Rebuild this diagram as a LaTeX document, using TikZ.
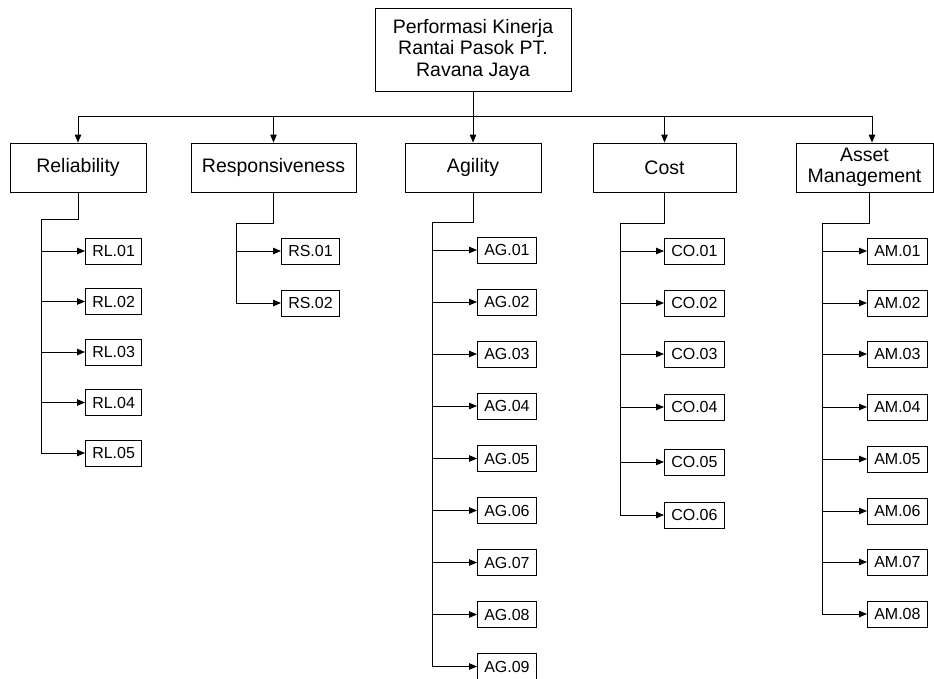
\documentclass[tikz,border=0pt]{standalone}
\usepackage{fontspec}
\setmainfont{Liberation Sans}
\usetikzlibrary{arrows.meta,positioning}
\tikzset{
    box/.style={rectangle, draw, line width=0.9pt, align=center, inner sep=0pt, font=\fontsize{19.5}{21.5}\selectfont},
    leaf/.style={rectangle, draw, line width=0.9pt, anchor=west, inner xsep=6.8pt, inner ysep=0pt, minimum height=26pt, font=\fontsize{16}{18}\selectfont},
    link/.style={line width=0.9pt},
    arr/.style={line width=0.9pt, -{Triangle[length=8pt,width=6.5pt]}}
}
\begin{document}
\begin{tikzpicture}[x=1pt,y=-1pt]
        \def\boxh{49pt}
        \useasboundingbox (0,0) rectangle (934,678);

        % root and first level
        \node(perf) [box, minimum width=196pt, minimum height=83pt] at (473,49.5) {Performasi Kinerja\\Rantai Pasok PT.\\Ravana Jaya};
        \node(rel) [box, minimum width=136pt, minimum height=\boxh] at (78,167.5) {Reliability};
        \node(resp) [box, minimum width=165pt, minimum height=\boxh] at (273.5,167.5) {Responsiveness};
        \node(agi) [box, minimum width=136pt, minimum height=\boxh] at (473,167.5) {Agility};
        \node(cost) [box, minimum width=143pt, minimum height=\boxh] at (664.5,167.5) {Cost};
        \node(am) [box, minimum width=137pt, minimum height=\boxh] at (864.5,167.5) {Asset\\Management};

        \coordinate(bus) at (473,116);
        \coordinate(amtop) at ([xshift=7.5pt]am.north);
        \draw[link] (perf.south) -- (bus);
        \draw[link] (rel.north |- bus) -- (amtop |- bus);
        \draw[arr] (rel.north |- bus) -- (rel.north);
        \draw[arr] (resp.north |- bus) -- (resp.north);
        \draw[arr] (bus) -- (agi.north);
        \draw[arr] (cost.north |- bus) -- (cost.north);
        \draw[arr] (amtop |- bus) -- (amtop);

        % Reliability
        \node(rl1) [leaf] at (85,251) {RL.01};
        \node(rl2) [leaf] at (85,301.5) {RL.02};
        \node(rl3) [leaf] at (85,352) {RL.03};
        \node(rl4) [leaf] at (85,402.5) {RL.04};
        \node(rl5) [leaf] at (85,453) {RL.05};
        \coordinate(relA) at (41,219);
        \draw[link] (rel.south) |- (relA) -- (relA |- rl5.west);
        \draw[arr] (rl1.west -| relA) -- (rl1.west);
        \draw[arr] (rl2.west -| relA) -- (rl2.west);
        \draw[arr] (rl3.west -| relA) -- (rl3.west);
        \draw[arr] (rl4.west -| relA) -- (rl4.west);
        \draw[arr] (rl5.west -| relA) -- (rl5.west);

        % Responsiveness
        \node(rs1) [leaf] at (281,251) {RS.01};
        \node(rs2) [leaf] at (281,303) {RS.02};
        \coordinate(respA) at (236,223);
        \draw[link] (resp.south) |- (respA) -- (respA |- rs2.west);
        \draw[arr] (rs1.west -| respA) -- (rs1.west);
        \draw[arr] (rs2.west -| respA) -- (rs2.west);

        % Agility
        \node(ag1) [leaf] at (477,250) {AG.01};
        \node(ag2) [leaf] at (477,302) {AG.02};
        \node(ag3) [leaf] at (477,354) {AG.03};
        \node(ag4) [leaf] at (477,406) {AG.04};
        \node(ag5) [leaf] at (477,458.5) {AG.05};
        \node(ag6) [leaf] at (477,510.5) {AG.06};
        \node(ag7) [leaf] at (477,562.5) {AG.07};
        \node(ag8) [leaf] at (477,614.5) {AG.08};
        \node(ag9) [leaf] at (477,666.5) {AG.09};
        \coordinate(agiA) at (432,222);
        \draw[link] (agi.south) |- (agiA) -- (agiA |- ag9.west);
        \draw[arr] (ag1.west -| agiA) -- (ag1.west);
        \draw[arr] (ag2.west -| agiA) -- (ag2.west);
        \draw[arr] (ag3.west -| agiA) -- (ag3.west);
        \draw[arr] (ag4.west -| agiA) -- (ag4.west);
        \draw[arr] (ag5.west -| agiA) -- (ag5.west);
        \draw[arr] (ag6.west -| agiA) -- (ag6.west);
        \draw[arr] (ag7.west -| agiA) -- (ag7.west);
        \draw[arr] (ag8.west -| agiA) -- (ag8.west);
        \draw[arr] (ag9.west -| agiA) -- (ag9.west);

        % Cost
        \node(co1) [leaf] at (664,251) {CO.01};
        \node(co2) [leaf] at (664,303) {CO.02};
        \node(co3) [leaf] at (664,354) {CO.03};
        \node(co4) [leaf] at (664,407) {CO.04};
        \node(co5) [leaf] at (664,462) {CO.05};
        \node(co6) [leaf] at (664,515) {CO.06};
        \coordinate(costA) at (620,223);
        \draw[link] (cost.south) |- (costA) -- (costA |- co6.west);
        \draw[arr] (co1.west -| costA) -- (co1.west);
        \draw[arr] (co2.west -| costA) -- (co2.west);
        \draw[arr] (co3.west -| costA) -- (co3.west);
        \draw[arr] (co4.west -| costA) -- (co4.west);
        \draw[arr] (co5.west -| costA) -- (co5.west);
        \draw[arr] (co6.west -| costA) -- (co6.west);

        % Asset Management
        \node(am1) [leaf] at (867,251) {AM.01};
        \node(am2) [leaf] at (867,303) {AM.02};
        \node(am3) [leaf] at (867,354) {AM.03};
        \node(am4) [leaf] at (867,407) {AM.04};
        \node(am5) [leaf] at (867,459) {AM.05};
        \node(am6) [leaf] at (867,511) {AM.06};
        \node(am7) [leaf] at (867,562) {AM.07};
        \node(am8) [leaf] at (867,614) {AM.08};
        \coordinate(amA) at (822,223);
        \draw[link] ([xshift=4.5pt]am.south) |- (amA) -- (amA |- am8.west);
        \draw[arr] (am1.west -| amA) -- (am1.west);
        \draw[arr] (am2.west -| amA) -- (am2.west);
        \draw[arr] (am3.west -| amA) -- (am3.west);
        \draw[arr] (am4.west -| amA) -- (am4.west);
        \draw[arr] (am5.west -| amA) -- (am5.west);
        \draw[arr] (am6.west -| amA) -- (am6.west);
        \draw[arr] (am7.west -| amA) -- (am7.west);
        \draw[arr] (am8.west -| amA) -- (am8.west);
\end{tikzpicture}
\end{document}
